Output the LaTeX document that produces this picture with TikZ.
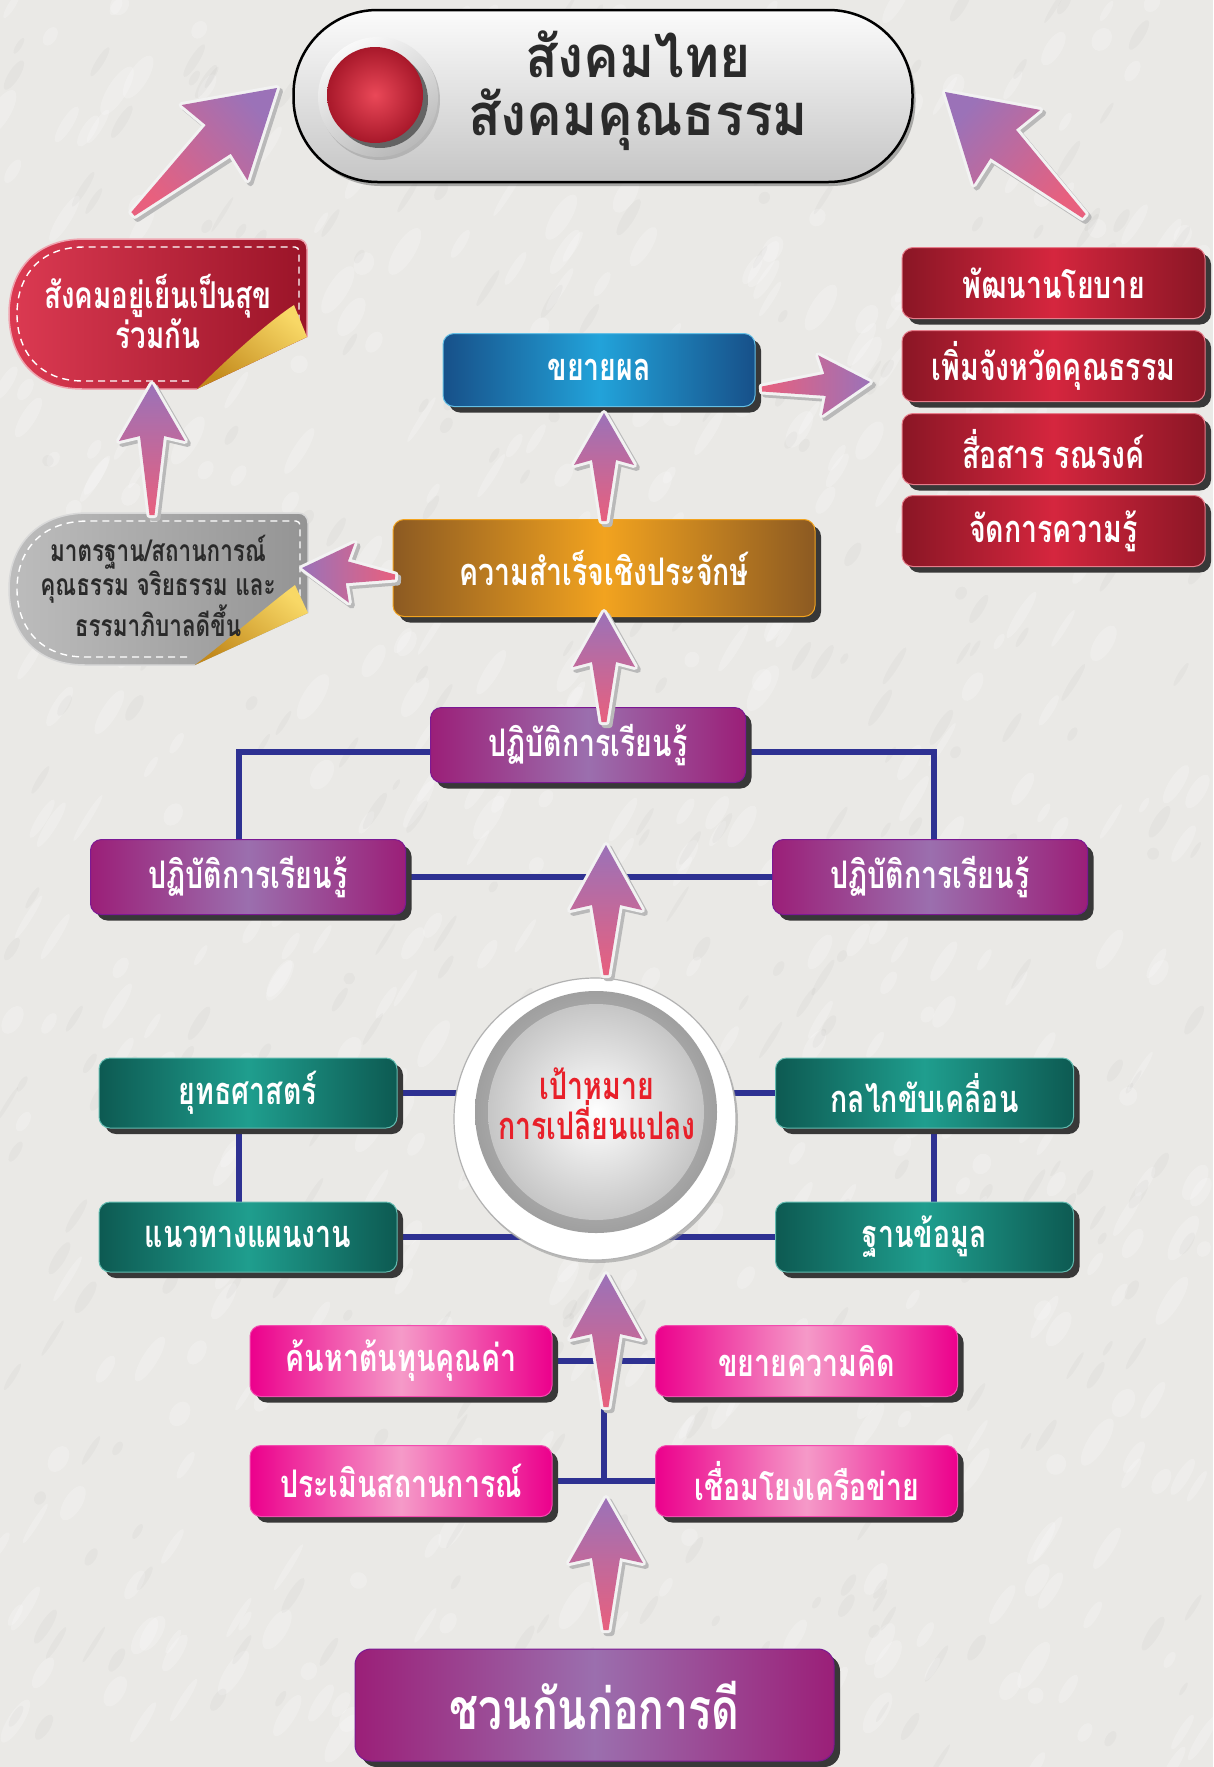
\documentclass[tikz,border=0pt]{standalone}
\usepackage{fontspec}
\newfontfamily\thai[Script=Thai,FakeStretch=0.75]{Loma}
\newfontfamily\thaiT[Script=Thai,FakeStretch=0.92]{Loma}
\usetikzlibrary{calc,shadows}
\definecolor{bgc}{HTML}{EAE9E6}
\definecolor{rEdge}{HTML}{8A1625}
\definecolor{rMid}{HTML}{D5263E}
\definecolor{bEdge}{HTML}{175089}
\definecolor{bMid}{HTML}{22A3DA}
\definecolor{oEdge}{HTML}{8C5A22}
\definecolor{oMid}{HTML}{F2A31F}
\definecolor{pEdge}{HTML}{9B1F78}
\definecolor{pMid}{HTML}{9B6FAE}
\definecolor{tEdge}{HTML}{0D5A52}
\definecolor{tMid}{HTML}{1F9E8E}
\definecolor{kEdge}{HTML}{EC008C}
\definecolor{kMid}{HTML}{F59AC8}
\definecolor{lineblue}{HTML}{2E3192}
\definecolor{apurple}{HTML}{9B72B8}
\definecolor{apink}{HTML}{E8607E}
\definecolor{arrowrim}{HTML}{F2F2F2}
\definecolor{goalred}{HTML}{E8202A}
\definecolor{tagR1}{HTML}{DC3A52}
\definecolor{tagR2}{HTML}{9A1428}
\definecolor{goldL}{HTML}{F8D866}
\definecolor{goldD}{HTML}{C38A1C}
\definecolor{darktext}{HTML}{2A2A2A}
\definecolor{ballin}{HTML}{EA4858}
\definecolor{ballout}{HTML}{A8182A}

\pgfdeclarelayer{back}
\pgfdeclarelayer{lines}
\pgfsetlayers{back,lines,main}

\newcommand{\dart}[6]{%
  \pgfmathsetmacro{\dHB}{#4+5}%
  \coordinate (dB) at ($(#2)!#4pt!(#1)$);
  \coordinate (dC) at ($(#2)!\dHB pt!(#1)$);
  \coordinate (dT1) at ($(#1)!2.5pt!90:(#2)$);
  \coordinate (dT2) at ($(#1)!2.5pt!-90:(#2)$);
  \coordinate (dS1) at ($(dB)!#6pt!90:(#2)$);
  \coordinate (dS2) at ($(dB)!#6pt!-90:(#2)$);
  \coordinate (dH1) at ($(dC)!#5pt!90:(#2)$);
  \coordinate (dH2) at ($(dC)!#5pt!-90:(#2)$);
  \filldraw[draw=gray!55, fill=gray!55, line width=6pt, line join=round, transform canvas={shift={(3pt,-3pt)}}]
    (dT1)--(dS1)--(dH1)--(#2)--(dH2)--(dS2)--(dT2)--cycle;
  \filldraw[draw=arrowrim, fill=arrowrim, line width=6pt, line join=round]
    (dT1)--(dS1)--(dH1)--(#2)--(dH2)--(dS2)--(dT2)--cycle;
  \shade[top color=apurple, bottom color=apink, shading angle=#3]
    (dT1)--(dS1)--(dH1)--(#2)--(dH2)--(dS2)--(dT2)--cycle;
}

\begin{document}
\begin{tikzpicture}[x=1pt,y=-1pt,
  lbl/.style={font=\thai\bfseries\fontsize{38}{40}\selectfont, text=white},
  box/.style={lbl, rounded corners=11pt, line width=1pt, inner sep=0pt,
    drop shadow={shadow xshift=6pt,shadow yshift=-6pt,fill=black!78,opacity=1}},
  redbox/.style={box, minimum width=303pt, minimum height=71pt, left color=rEdge, right color=rEdge, middle color=rMid, draw=rMid!60!white},
  bluebox/.style={box, minimum width=312pt, minimum height=73pt, left color=bEdge, right color=bEdge, middle color=bMid, draw=bMid!70!white},
  orangebox/.style={box, minimum width=422pt, minimum height=97pt, left color=oEdge, right color=oEdge, middle color=oMid, draw=oMid},
  purplebox/.style={box, minimum width=315pt, minimum height=75pt, left color=pEdge, right color=pEdge, middle color=pMid, draw=pEdge!80!blue},
  tealbox/.style={box, minimum width=298pt, minimum height=70pt, left color=tEdge, right color=tEdge, middle color=tMid, draw=tMid!70!white},
  pinkbox/.style={box, minimum width=302pt, minimum height=71pt, left color=kEdge, right color=kEdge, middle color=kMid, draw=kEdge!70!white},
  conn/.style={draw=lineblue, line width=6pt},
  stitch/.style={draw=white, line width=1.4pt, dash pattern=on 7pt off 5pt}
]
\useasboundingbox (0,0) rectangle (1213,1767);
\begin{pgfonlayer}{back}
\fill[bgc] (0,0) rectangle (1213,1767);
\pgfmathsetseed{11}
\foreach \i in {1,...,500} {
  \pgfmathsetmacro{\xx}{rnd*1213}
  \pgfmathsetmacro{\yy}{rnd*1767}
  \pgfmathsetmacro{\rx}{8+rnd*20}
  \pgfmathsetmacro{\ry}{3+rnd*7}
  \fill[white, opacity=0.22, shift={(\xx,\yy)}, rotate=58] (0,0) ellipse [x radius=\rx, y radius=\ry];
}
\foreach \i in {1,...,300} {
  \pgfmathsetmacro{\xx}{rnd*1213}
  \pgfmathsetmacro{\yy}{rnd*1767}
  \pgfmathsetmacro{\rx}{6+rnd*16}
  \pgfmathsetmacro{\ry}{2+rnd*4}
  \fill[black, opacity=0.025, shift={(\xx,\yy)}, rotate=58] (0,0) ellipse [x radius=\rx, y radius=\ry];
}
\end{pgfonlayer}

% ---------- title ----------
\node[draw=black, line width=2.5pt, rounded corners=84pt, minimum width=619pt, minimum height=172pt,
  top color=white!97!gray, bottom color=gray!45,
  drop shadow={shadow xshift=3pt,shadow yshift=-4pt,fill=black!60,opacity=0.5}] (title) at (603,96) {};
\node[circle, minimum size=120pt, inner sep=0pt, top color=white!95!gray, bottom color=gray!55, shading angle=30,
  drop shadow={shadow xshift=2pt,shadow yshift=-3pt,fill=black!40,opacity=0.5}] (ballring) at (378,97) {};
\node[circle, minimum size=96pt, inner sep=0pt, inner color=ballin, outer color=ballout,
  drop shadow={shadow xshift=5pt,shadow yshift=-5pt,fill=black!70,opacity=0.8}] (ball) at (375,95) {};
\node[font=\thaiT\bfseries\fontsize{58}{58}\selectfont, text=darktext, align=center] (titletxt) at (638,91) {สังคมไทย\\สังคมคุณธรรม};

% ---------- red tag ----------
\shade[left color=tagR1, right color=tagR2]
  (197,389) -- (82,389) .. controls (30,389) and (9,352) .. (9,314) .. controls (9,274) and (32,239) .. (84,239)
  -- (297,239) .. controls (303,239) and (307,243) .. (307,249) -- (307,337) -- cycle;
\draw[white!55!tagR1, line width=1.5pt]
  (197,389) -- (82,389) .. controls (30,389) and (9,352) .. (9,314) .. controls (9,274) and (32,239) .. (84,239)
  -- (297,239) .. controls (303,239) and (307,243) .. (307,249) -- (307,337);
\draw[stitch] (189,381) -- (83,381) .. controls (38,381) and (17,350) .. (17,314) .. controls (17,278) and (38,247) .. (84,247)
  -- (295,247) .. controls (297,247) and (299,249) .. (299,251) -- (299,326);
\shade[top color=goldL, bottom color=goldD, shading angle=-40]
  (197,389) -- (307,337) -- (294,305) .. controls (268,322) and (228,358) .. (197,389) -- cycle;
\node[font=\thai\bfseries\fontsize{37}{40}\selectfont, text=white, align=center] (redtxt) at (158,311) {สังคมอยู่เย็นเป็นสุข\\ร่วมกัน};

% ---------- grey tag ----------
\shade[left color=black!26, right color=black!42]
  (195,665) -- (85,665) .. controls (33,665) and (9,630) .. (9,589) .. controls (9,548) and (35,513) .. (88,513)
  -- (298,513) .. controls (304,513) and (308,517) .. (308,523) -- (308,613) -- cycle;
\draw[white!70!gray, line width=1.5pt]
  (195,665) -- (85,665) .. controls (33,665) and (9,630) .. (9,589) .. controls (9,548) and (35,513) .. (88,513)
  -- (298,513) .. controls (304,513) and (308,517) .. (308,523) -- (308,613);
\draw[stitch] (187,657) -- (85,657) .. controls (40,657) and (17,627) .. (17,589) .. controls (17,552) and (40,521) .. (88,521)
  -- (296,521) .. controls (298,521) and (300,523) .. (300,525) -- (300,604);
\shade[top color=goldL, bottom color=goldD, shading angle=-40]
  (195,665) -- (308,613) -- (295,585) .. controls (268,605) and (228,640) .. (195,665) -- cycle;
\node[font=\thai\bfseries\fontsize{30}{34}\selectfont, text=darktext, align=center] (greytxt) at (158,586) {มาตรฐาน/สถานการณ์\\คุณธรรม จริยธรรม และ\\ธรรมาภิบาลดีขึ้น};

% ---------- right red column ----------
\node[redbox] (r1) at (1053.5,283) {พัฒนานโยบาย};
\node[redbox] (r2) at (1053.5,366) {เพิ่มจังหวัดคุณธรรม};
\node[redbox] (r3) at (1053.5,449) {สื่อสาร รณรงค์};
\node[redbox] (r4) at (1053.5,531) {จัดการความรู้};

% ---------- blue / orange ----------
\node[bluebox] (expand) at (599,370) {ขยายผล};
\node[orangebox] (success) at (604,568) {ความสำเร็จเชิงประจักษ์};

% ---------- purple row ----------
\node[purplebox] (ptop) at (588,745) {ปฏิบัติการเรียนรู้};
\node[purplebox] (pleft) at (248,877) {ปฏิบัติการเรียนรู้};
\node[purplebox] (pright) at (930,877) {ปฏิบัติการเรียนรู้};

% ---------- goal circle ----------
\node[circle, minimum size=282pt, inner sep=0pt, fill=white, draw=gray!60, line width=1.2pt,
  drop shadow={shadow xshift=2pt,shadow yshift=-3pt,fill=black!40,opacity=0.6}] (goal) at (595,1119) {};
\shade[inner color=gray!35, outer color=gray!75] (596,1112) circle[radius=121pt];
\shade[inner color=white, outer color=gray!45] (596,1112) circle[radius=108pt];
\node[font=\thai\bfseries\fontsize{38}{39}\selectfont, text=goalred, align=center] (goaltxt) at (597,1104) {เป้าหมาย\\การเปลี่ยนแปลง};

% ---------- teal boxes ----------
\node[tealbox] (strat) at (248,1093) {ยุทธศาสตร์};
\node[tealbox] (plan) at (248,1237) {แนวทางแผนงาน};
\node[tealbox] (mech) at (924.5,1093) {กลไกขับเคลื่อน};
\node[tealbox] (data) at (924.5,1237) {ฐานข้อมูล};

% ---------- pink boxes ----------
\node[pinkbox] (pk1) at (401,1361) {ค้นหาต้นทุนคุณค่า};
\node[pinkbox] (pk2) at (806.5,1361) {ขยายความคิด};
\node[pinkbox] (pk3) at (401,1481) {ประเมินสถานการณ์};
\node[pinkbox] (pk4) at (806.5,1481) {เชื่อมโยงเครือข่าย};

% ---------- bottom ----------
\node[purplebox, minimum width=479pt, minimum height=112pt, font=\thai\bfseries\fontsize{57}{60}\selectfont, rounded corners=16pt] (start) at (594.5,1705) {ชวนกันก่อการดี};

% ---------- connector lines ----------
\begin{pgfonlayer}{lines}
\draw[conn] ([yshift=-7pt]ptop.west) -| ([xshift=-9pt]pleft.north);
\draw[conn] ([yshift=-7pt]ptop.east) -| ([xshift=4pt]pright.north);
\draw[conn] (pleft) -- (pright);
\draw[conn] (strat.east) -- (strat.east -| goal.center);
\draw[conn] (mech.west) -- (mech.west -| goal.center);
\draw[conn] (plan.east) -- (plan.east -| goal.center);
\draw[conn] (data.west) -- (data.west -| goal.center);
\draw[conn] ([xshift=-9pt]strat.south) -- ([xshift=-9pt]plan.north);
\draw[conn] ([xshift=9pt]mech.south) -- ([xshift=9pt]data.north);
\draw[conn] (pk1.east) -- (pk2.west);
\draw[conn] (pk3.east) -- (pk4.west);
\draw[conn] ($(pk1.east)!0.5!(pk2.west)$) -- ($(pk3.east)!0.5!(pk4.west)$);
\end{pgfonlayer}

% ---------- arrows ----------
\coordinate (a1t) at (133,214); \coordinate (a1h) at (277,88);
\coordinate (a2t) at (1084,216); \coordinate (a2h) at (945,92);
\coordinate (a3t) at (152,515); \coordinate (a3h) at (152,384);
\coordinate (a4t) at (395,577); \coordinate (a4h) at (302,568);
\coordinate (a5t) at (604,521); \coordinate (a5h) at (604,413);
\coordinate (a6t) at (762,389); \coordinate (a6h) at (870,382);
\coordinate (a7t) at (604,722); \coordinate (a7h) at (604,612);
\coordinate (a8t) at (606,975); \coordinate (a8h) at (606,845);
\coordinate (a9t) at (606,1407); \coordinate (a9h) at (606,1274);
\coordinate (a10t) at (606,1630); \coordinate (a10h) at (606,1498);
\dart{a1t}{a1h}{-49}{78}{50}{19}
\dart{a2t}{a2h}{48}{78}{50}{19}
\dart{a3t}{a3h}{0}{52}{33}{12}
\dart{a4t}{a4h}{90}{45}{30}{11}
\dart{a5t}{a5h}{0}{47}{30}{12}
\dart{a6t}{a6h}{-90}{45}{30}{11}
\dart{a7t}{a7h}{0}{50}{31}{12}
\dart{a8t}{a8h}{0}{60}{36}{14}
\dart{a9t}{a9h}{0}{60}{36}{14}
\dart{a10t}{a10h}{0}{60}{37}{14}
\end{tikzpicture}
\end{document}
